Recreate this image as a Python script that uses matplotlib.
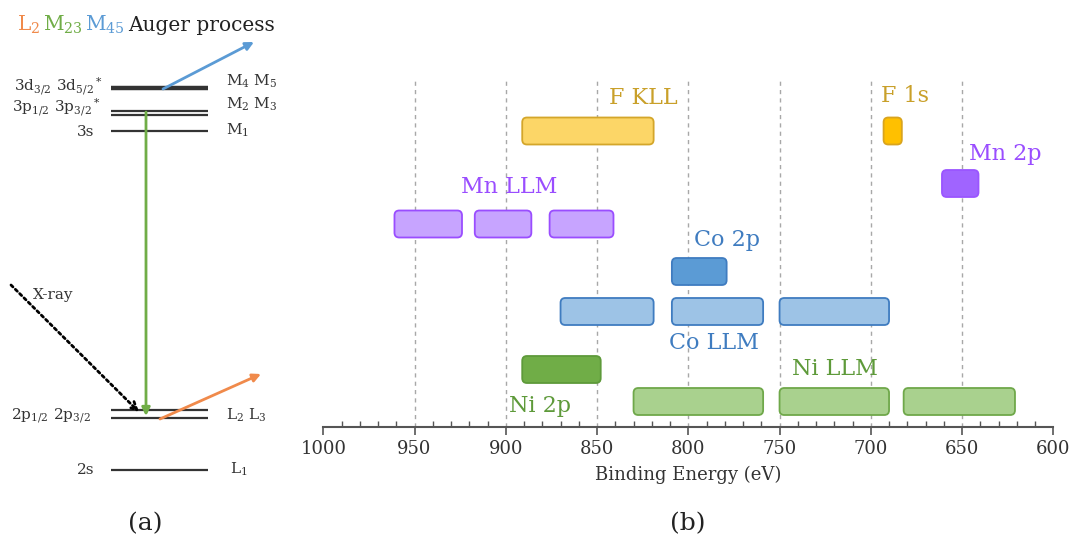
import matplotlib
matplotlib.use("Agg")
import matplotlib.pyplot as plt
from matplotlib.patches import FancyBboxPatch
from matplotlib.ticker import MultipleLocator
from matplotlib.offsetbox import TextArea, HPacker, AnchoredOffsetbox

plt.rcParams['font.family'] = 'DejaVu Serif'
plt.rcParams['mathtext.fontset'] = 'dejavuserif'

# ---------------- dados (b): faixas de energia de ligacao (eV) ----------------
f_kll  = [(891, 819)]
f_1s   = [(693, 683)]
mn_2p  = [(661, 641)]
mn_llm = [(961, 924), (917, 886), (876, 841)]
co_2p  = [(809, 779)]
co_llm = [(870, 819), (809, 759), (750, 690)]
ni_2p  = [(891, 848)]
ni_llm = [(830, 759), (750, 690), (682, 621)]

# nivel (linha) de cada grupo
rows = [296, 296, 243.5, 203, 155.5, 115.5, 57.5, 25.5]
groups = [f_kll, f_1s, mn_2p, mn_llm, co_2p, co_llm, ni_2p, ni_llm]
names = ['F KLL', 'F 1s', 'Mn 2p', 'Mn LLM', 'Co 2p', 'Co LLM', 'Ni 2p', 'Ni LLM']
fills = ['#FCD667', '#FFC000', '#A064FF', '#C7A4FF', '#5B9BD5', '#9DC3E6', '#70AD47', '#A9D18E']
edges = ['#D4A62A', '#D9A41E', '#9A55FF', '#9A4DFF', '#3F7CC0', '#3F7CC0', '#5E9A3A', '#6FA84A']
txtcol = ['#C9A02A', '#C9A02A', '#9A4DFF', '#9A4DFF', '#3F7CC0', '#3F7CC0', '#5E9A3A', '#5E9A3A']
# posicao dos rotulos (eV, nivel)
lab_pos = [(824.5, 329), (681.5, 331), (626.5, 273), (898, 240),
           (779, 187), (786, 84), (881, 21), (719.5, 58)]

xticks = [1000, 950, 900, 850, 800, 750, 700, 650, 600]

# ---------------- dados (a): niveis de energia ----------------
lvl_y     = [87.5, 111, 114.5, 130.5, 409.5, 417.5, 470]
lvl_w     = [3.2, 1.6, 1.6, 1.6, 1.6, 1.6, 1.6]
left_lab  = ['3d$_{3/2}$ 3d$_{5/2}$$^*$', '3p$_{1/2}$ 3p$_{3/2}$$^*$', '3s',
             '2p$_{1/2}$ 2p$_{3/2}$', '2s']
left_y    = [91, 112, 136, 419, 474]
left_x    = [103, 101, 94, 91, 94]
right_lab = ['M$_4$ M$_5$', 'M$_2$ M$_3$', 'M$_1$', 'L$_2$ L$_3$', 'L$_1$']
right_y   = [86, 109, 135, 420, 474]
right_x   = [226, 226, 226, 226, 230]


fig = plt.figure(figsize=(10.72, 5.38), dpi=100)

# painel (a) em coordenadas de pixel
axa = fig.add_axes([0, 0, 1, 1])
axa.set_xlim(0, 1072)
axa.set_ylim(538, 0)
axa.axis('off')

for y, w in zip(lvl_y, lvl_w):
    axa.plot([111, 208], [y, y], color='#333333', lw=w, solid_capstyle='butt')
for t, x, y in zip(left_lab, left_x, left_y):
    axa.text(x, y, t, ha='right', va='baseline', fontsize=11, color='#333333')
for t, x, y in zip(right_lab, right_x, right_y):
    axa.text(x, y, t, ha='left', va='baseline', fontsize=11, color='#333333')

axa.annotate('', xy=(146, 416), xytext=(146, 112),
             arrowprops=dict(arrowstyle='-|>', color='#70AD47', lw=2, mutation_scale=12,
                             shrinkA=0, shrinkB=0))
axa.annotate('', xy=(254, 42), xytext=(163, 89),
             arrowprops=dict(arrowstyle='-|>', color='#5B9BD5', lw=2, mutation_scale=12,
                             shrinkA=0, shrinkB=0))
axa.annotate('', xy=(261, 374), xytext=(160, 419),
             arrowprops=dict(arrowstyle='-|>', color='#F08A4B', lw=2, mutation_scale=12,
                             shrinkA=0, shrinkB=0))
axa.annotate('', xy=(139, 412), xytext=(11, 285),
             arrowprops=dict(arrowstyle='->', color='black', lw=2, ls=(0, (1, 1.2)),
                             mutation_scale=14, shrinkA=0, shrinkB=0))
axa.text(33, 299, 'X-ray', fontsize=11, color='#333333', va='baseline')

parts = [('L$_2$', '#F08A4B'), ('M$_{23}$', '#70AD47'), ('M$_{45}$', '#5B9BD5'),
         ('Auger process', '#222222')]
boxes = [TextArea(t, textprops=dict(color=c, fontsize=14.5)) for t, c in parts]
title = AnchoredOffsetbox(loc='lower left', child=HPacker(children=boxes, pad=0, sep=2, align='baseline'),
                          bbox_to_anchor=(17, 36), bbox_transform=axa.transData,
                          frameon=False, pad=0, borderpad=0)
axa.add_artist(title)

axa.text(145, 530, '(a)', ha='center', va='baseline', fontsize=18, color='#222222')
axa.text(688, 530, '(b)', ha='center', va='baseline', fontsize=18, color='#222222')

# painel (b)
axb = fig.add_axes([323.3 / 1072, (538 - 427) / 538, (1053.3 - 323.3) / 1072, 350 / 538])
axb.patch.set_alpha(0)
axb.set_xlim(1000, 600)
axb.set_ylim(0, 350)

for e in xticks[1:-1]:
    axb.axvline(e, color='#A8A8A8', lw=1, ls=(0, (3, 3)), zorder=0)

for grp, yc, fc, ec in zip(groups, rows, fills, edges):
    for hi, lo in grp:
        axb.add_patch(FancyBboxPatch((lo, yc - 13.5), hi - lo, 27,
                                     boxstyle='round,pad=0,rounding_size=2.6',
                                     mutation_aspect=1.85, fc=fc, ec=ec, lw=1.3, zorder=2))

for n, (x, y), c in zip(names, lab_pos, txtcol):
    axb.text(x, y, n, ha='center', va='center', fontsize=16, color=c)

axb.set_xticks(xticks)
axb.xaxis.set_minor_locator(MultipleLocator(10))
axb.tick_params(axis='x', which='major', direction='out', length=6, width=1.2,
                color='#555555', labelsize=13, labelcolor='#333333', pad=3)
axb.tick_params(axis='x', which='minor', direction='in', length=4, width=1,
                color='#555555')
axb.set_yticks([])
for s in ['top', 'left', 'right']:
    axb.spines[s].set_visible(False)
axb.spines['bottom'].set_color('#555555')
axb.spines['bottom'].set_linewidth(1.5)
axb.set_xlabel('Binding Energy (eV)', fontsize=13, color='#333333', labelpad=6)

fig.savefig('out.png', dpi=100)
